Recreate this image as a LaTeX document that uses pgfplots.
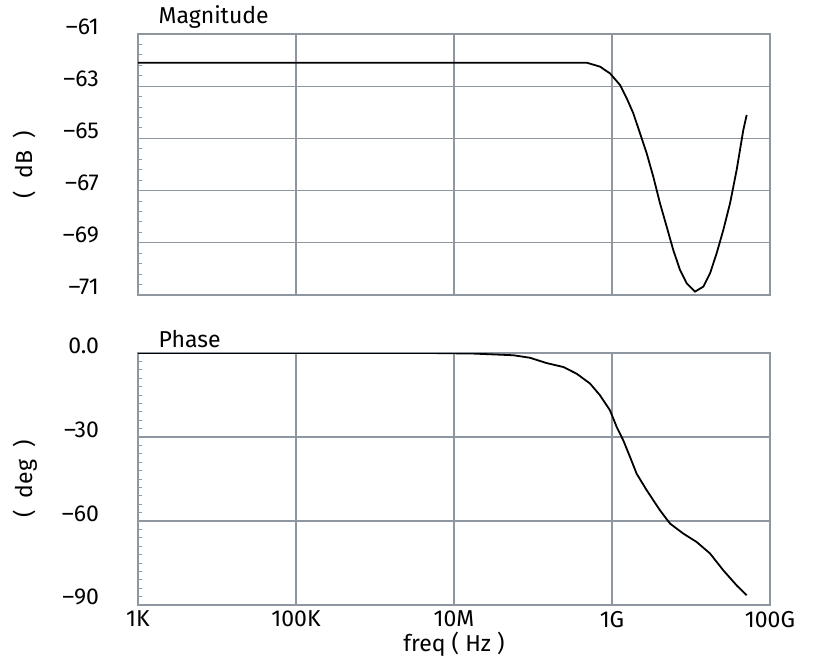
\documentclass[border=0pt]{standalone}
\usepackage{fontspec}
\setmainfont{Fira Sans}
\usepackage{pgfplots}
\pgfplotsset{compat=1.18}
\definecolor{gridc}{HTML}{8E979F}
\newcommand{\fs}{\fontsize{11.5}{13}\selectfont}
\begin{document}
\begin{tikzpicture}
\begin{axis}[scale only axis, width=316pt, xmode=log, xmin=1e3, xmax=1e11,
    clip mode=individual,
    xtick={1e3,1e5,1e7,1e9,1e11},
    grid=major, major grid style={gridc, line width=0.65pt},
    axis line style={gridc, line width=0.75pt},
    major tick length=0pt, minor tick length=2.2pt,
    ytick pos=left, xtick pos=left,
    minor tick style={gridc, line width=0.5pt},
    tick label style={font=\fs},
    yticklabel style={yshift=3.8pt, xshift=-16pt},
    ylabel style={font=\fs, at={(axis description cs:-0.179,0.5)}, anchor=center},
  at={(0,0)}, anchor=north west, height=130.5pt,
  ymin=-71, ymax=-61, ytick={-71,-69,-67,-65,-63,-61},
  yticklabels={–71,–69,–67,–65,–63,–61},
  minor y tick num=4, xticklabels={},
  ylabel={(\ \ dB\ \ )}]
\addplot[black, line width=0.9pt] coordinates {
(1e3,-62.1) (4.79e8,-62.1) (7.05e8,-62.25) (9.44e8,-62.51) (1.262e9,-62.95)
(1.535e9,-63.46) (1.862e9,-64.04) (2.259e9,-64.80) (2.748e9,-65.57) (3.334e9,-66.47)
(4.055e9,-67.49) (4.920e9,-68.38) (5.970e9,-69.28) (7.261e9,-70.04) (8.810e9,-70.55)
(1.125e10,-70.87) (1.432e10,-70.68) (1.742e10,-70.17) (2.113e10,-69.40) (2.564e10,-68.51)
(3.119e10,-67.49) (3.436e10,-66.85) (3.784e10,-66.21) (4.169e10,-65.44) (4.592e10,-64.68)
(5.070e10,-64.10)};
\node[anchor=south west, inner sep=0pt, font=\fs] at (axis description cs:0.032,1.02) {Magnitude};
\end{axis}
\begin{axis}[scale only axis, width=316pt, xmode=log, xmin=1e3, xmax=1e11,
    clip mode=individual,
    xtick={1e3,1e5,1e7,1e9,1e11},
    grid=major, major grid style={gridc, line width=0.65pt},
    axis line style={gridc, line width=0.75pt},
    major tick length=0pt, minor tick length=2.2pt,
    ytick pos=left, xtick pos=left,
    minor tick style={gridc, line width=0.5pt},
    tick label style={font=\fs},
    yticklabel style={yshift=3.8pt, xshift=-16pt},
    ylabel style={font=\fs, at={(axis description cs:-0.179,0.5)}, anchor=center},
  at={(0,-159.5pt)}, anchor=north west, height=126pt,
  ymin=-90, ymax=0, ytick={-90,-60,-30,0},
  yticklabels={–90,–60,–30,0.0},
  minor y tick num=9,
  xticklabels={1K,100K,10M,1G,100G},
  xticklabel style={yshift=0.5pt},
  xlabel={freq (\ Hz\ )}, xlabel style={font=\fs, yshift=4.5pt},
  ylabel={(\ \ deg\ \ )}]
\addplot[black, line width=0.9pt] coordinates {
(1e3,0) (4.97e6,0) (1.758e7,-0.2) (5.64e7,-0.8) (9.16e7,-1.7) (1.489e8,-3.6)
(2.421e8,-5.0) (3.573e8,-7.4) (5.27e8,-10.9) (7.05e8,-15.1) (9.44e8,-20.5)
(1.146e9,-26.4) (1.390e9,-31.2) (1.690e9,-37.1) (2.051e9,-43.1) (2.748e9,-49.0)
(4.055e9,-56.2) (5.42e9,-60.9) (8.00e9,-64.5) (1.180e10,-67.5) (1.742e10,-71.6)
(2.564e10,-77.6) (3.784e10,-83.0) (5.07e10,-86.5)};
\node[anchor=south west, inner sep=0pt, font=\fs] at (axis description cs:0.032,1.02) {Phase};
\end{axis}
\pgfresetboundingbox
\path[use as bounding box] (-69pt,17pt) rectangle (338.5pt,-310.5pt);
\end{tikzpicture}
\end{document}
